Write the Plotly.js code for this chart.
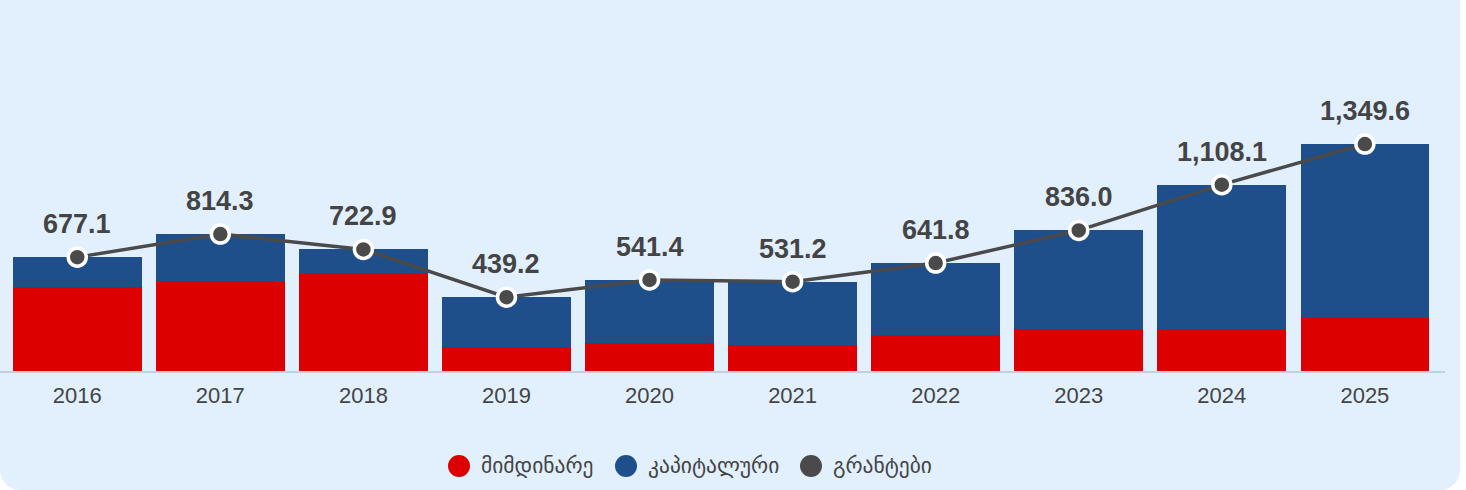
<!DOCTYPE html>
<html>
<head>
<meta charset="utf-8">
<script src="https://cdn.plot.ly/plotly-3.0.1.min.js"></script>
<style>
  body { margin: 0; background: #ffffff; }
  #chart { width: 1460px; height: 490px; background: #e2f0fe; border-radius: 0 0 20px 20px; overflow: hidden; }
</style>
</head>
<body>
<div id="chart"></div>
<script>
// years and series (millions)
const years = ['2016', '2017', '2018', '2019', '2020', '2021', '2022', '2023', '2024', '2025'];
const current = [498, 535, 581, 141, 166, 155, 214, 250, 250, 319];
const capital = [179.1, 279.3, 141.9, 298.2, 375.4, 376.2, 427.8, 586.0, 858.1, 1030.6];
const totals = [677.1, 814.3, 722.9, 439.2, 541.4, 531.2, 641.8, 836.0, 1108.1, 1349.6];
const legendNames = ['მიმდინარე', 'კაპიტალური', 'გრანტები'];
const colors = ['#dd0000', '#1f4f8b', '#4a4a4a'];

const fmt = v => v.toLocaleString('en-US', { minimumFractionDigits: 1, maximumFractionDigits: 1 });

const trace1 = {
  x: years, y: current, type: 'bar', name: legendNames[0],
  marker: { color: colors[0] }, hoverinfo: 'y'
};
const trace2 = {
  x: years, y: capital, type: 'bar', name: legendNames[1],
  marker: { color: colors[1] }, hoverinfo: 'y'
};
const trace3 = {
  x: years, y: totals, type: 'scatter', mode: 'lines+markers', name: legendNames[2],
  line: { color: colors[2], width: 3.5 },
  marker: { color: colors[2], size: 18, line: { color: '#ffffff', width: 3.5 } },
  cliponaxis: false
};

// value labels above the points (x = category index)
const valueLabels = totals.map((v, i) => ({
  x: i, y: v, xref: 'x', yref: 'y',
  yshift: 33, yanchor: 'middle', showarrow: false,
  text: fmt(v),
  font: { family: 'Liberation Sans, Arial, sans-serif', size: 27, color: '#444444', weight: 'bold' }
}));

// custom legend with big round markers
const legX = [459, 626, 811];   // px centres of the circles
const plotW = 1445;
const legY = -0.256;
const shapes = legX.map((px, i) => ({
  type: 'circle', xref: 'paper', yref: 'paper',
  xsizemode: 'pixel', ysizemode: 'pixel',
  xanchor: px / plotW, yanchor: legY,
  x0: -11, x1: 11, y0: -11, y1: 11,
  fillcolor: colors[i], line: { width: 0 }
}));
const legendLabels = legX.map((px, i) => ({
  xref: 'paper', yref: 'paper', x: (px + 20) / plotW, y: legY,
  xanchor: 'left', yanchor: 'middle', showarrow: false,
  text: legendNames[i],
  font: { family: 'DejaVu Sans, Noto Sans, sans-serif', size: 21.5, color: '#444444' }
}));

const layout = {
  width: 1460, height: 490,
  margin: { l: 0, r: 15, t: 0, b: 119 },
  paper_bgcolor: 'rgba(0,0,0,0)',
  plot_bgcolor: 'rgba(0,0,0,0)',
  barmode: 'stack',
  bargap: 0.1,
  showlegend: false,
  xaxis: {
    type: 'category', range: [-0.54, 9.56],
    showline: true, linecolor: '#c5ced9', linewidth: 2,
    ticks: '', showgrid: false, fixedrange: true, ticklabelstandoff: 4,
    tickfont: { family: 'Liberation Sans, Arial, sans-serif', size: 22, color: '#444444' }
  },
  yaxis: {
    range: [0, 2206], visible: false, showgrid: false, zeroline: false, fixedrange: true
  },
  shapes: shapes,
  annotations: valueLabels.concat(legendLabels)
};

Plotly.newPlot('chart', [trace1, trace2, trace3], layout, { displayModeBar: false, staticPlot: true });
</script>
</body>
</html>
